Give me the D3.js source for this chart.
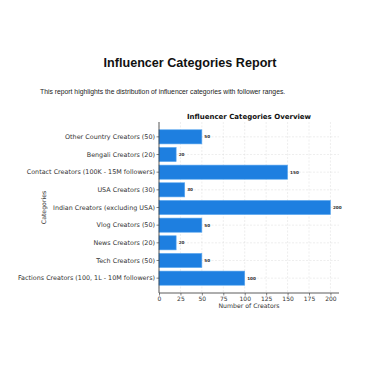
<!DOCTYPE html>
<html>
<head>
<meta charset="utf-8">
<script src="https://cdn.jsdelivr.net/npm/d3@7"></script>
<style>
  body { margin: 0; background: #fff; }
</style>
</head>
<body>
<div id="chart"></div>
<script>
// data
var categories = [
  "Other Country Creators (50)",
  "Bengali Creators (20)",
  "Contact Creators (100K - 15M followers)",
  "USA Creators (30)",
  "Indian Creators (excluding USA)",
  "Vlog Creators (50)",
  "News Creators (20)",
  "Tech Creators (50)",
  "Factions Creators (100, 1L - 10M followers)"
];
var counts = [50, 20, 150, 30, 200, 50, 20, 50, 100];
var xTicks = [0, 25, 50, 75, 100, 125, 150, 175, 200];

var svgWidth = 375;
var svgHeight = 366;

var plot = { left: 159, right: 339, top: 122, bottom: 293 };

var svg = d3.select("#chart")
  .append("svg")
  .attr("width", svgWidth)
  .attr("height", svgHeight);

// page header
svg.append("text")
  .attr("x", 190)
  .attr("y", 67)
  .attr("text-anchor", "middle")
  .attr("font-family", "Liberation Sans, Arial, sans-serif")
  .attr("font-weight", "bold")
  .attr("font-size", "12.6px")
  .attr("fill", "#111")
  .text("Influencer Categories Report");

svg.append("text")
  .attr("x", 40)
  .attr("y", 94)
  .attr("font-family", "Liberation Sans, Arial, sans-serif")
  .attr("font-size", "6.8px")
  .attr("fill", "#222")
  .text("This report highlights the distribution of influencer categories with follower ranges.");

// scales
var xScale = d3.scaleLinear()
  .domain([0, 210])
  .range([plot.left, plot.right]);

var yScale = d3.scaleBand()
  .domain(categories)
  .range([plot.top, plot.bottom])
  .paddingInner(0.2)
  .paddingOuter(0.44);

var font = "DejaVu Sans, sans-serif";

// grid
var grid = svg.append("g");
grid.selectAll(".vgrid")
  .data(xTicks)
  .enter()
  .append("line")
  .attr("x1", d => xScale(d))
  .attr("x2", d => xScale(d))
  .attr("y1", plot.top)
  .attr("y2", plot.bottom)
  .attr("stroke", "#dcdcdc")
  .attr("stroke-width", 0.5)
  .attr("stroke-dasharray", "2,1.5");

grid.selectAll(".hgrid")
  .data(categories)
  .enter()
  .append("line")
  .attr("x1", plot.left)
  .attr("x2", plot.right)
  .attr("y1", d => yScale(d) + yScale.bandwidth() / 2)
  .attr("y2", d => yScale(d) + yScale.bandwidth() / 2)
  .attr("stroke", "#dcdcdc")
  .attr("stroke-width", 0.5)
  .attr("stroke-dasharray", "2,1.5");

// bars
svg.selectAll(".bar")
  .data(categories)
  .enter()
  .append("rect")
  .attr("x", xScale(0))
  .attr("y", d => yScale(d))
  .attr("width", (d, i) => xScale(counts[i]) - xScale(0))
  .attr("height", yScale.bandwidth())
  .attr("fill", "#1e7fe0")
  .attr("stroke", "#5aa7ef")
  .attr("stroke-width", 0.6);

// value labels
svg.selectAll(".val")
  .data(categories)
  .enter()
  .append("text")
  .attr("x", (d, i) => xScale(counts[i]) + 2.5)
  .attr("y", d => yScale(d) + yScale.bandwidth() / 2)
  .attr("dy", "0.35em")
  .attr("font-family", font)
  .attr("font-weight", "bold")
  .attr("font-size", "4.2px")
  .attr("fill", "#333")
  .text((d, i) => counts[i]);

// axes
var bottomAxis = d3.axisBottom(xScale)
  .tickValues(xTicks)
  .tickSize(2.5)
  .tickPadding(1.5);

var xAxis = svg.append("g")
  .attr("transform", `translate(0, ${plot.bottom})`)
  .call(bottomAxis);
xAxis.select(".domain").attr("stroke", "#333").attr("stroke-width", 0.8).attr("d", `M${plot.left},0H${plot.right}`);
xAxis.selectAll(".tick line").attr("stroke", "#333").attr("stroke-width", 0.6);
xAxis.selectAll("text")
  .attr("font-family", font)
  .attr("font-size", "6px")
  .attr("fill", "#333");

var leftAxis = d3.axisLeft(yScale)
  .tickSize(2.5)
  .tickPadding(1.5);

var yAxis = svg.append("g")
  .attr("transform", `translate(${plot.left}, 0)`)
  .call(leftAxis);
yAxis.select(".domain").attr("stroke", "#333").attr("stroke-width", 0.8).attr("d", `M0,${plot.top}V${plot.bottom}`);
yAxis.selectAll(".tick line").attr("stroke", "#333").attr("stroke-width", 0.6);
yAxis.selectAll("text")
  .attr("font-family", font)
  .attr("font-size", "6.4px")
  .attr("fill", "#333");

// chart title and axis labels
svg.append("text")
  .attr("x", (plot.left + plot.right) / 2)
  .attr("y", 119)
  .attr("text-anchor", "middle")
  .attr("font-family", font)
  .attr("font-weight", "bold")
  .attr("font-size", "7px")
  .attr("fill", "#111")
  .text("Influencer Categories Overview");

svg.append("text")
  .attr("x", (plot.left + plot.right) / 2)
  .attr("y", 308)
  .attr("text-anchor", "middle")
  .attr("font-family", font)
  .attr("font-size", "6.2px")
  .attr("fill", "#333")
  .text("Number of Creators");

svg.append("text")
  .attr("transform", `translate(46, ${(plot.top + plot.bottom) / 2}) rotate(-90)`)
  .attr("text-anchor", "middle")
  .attr("font-family", font)
  .attr("font-size", "6.2px")
  .attr("fill", "#333")
  .text("Categories");
</script>
</body>
</html>
